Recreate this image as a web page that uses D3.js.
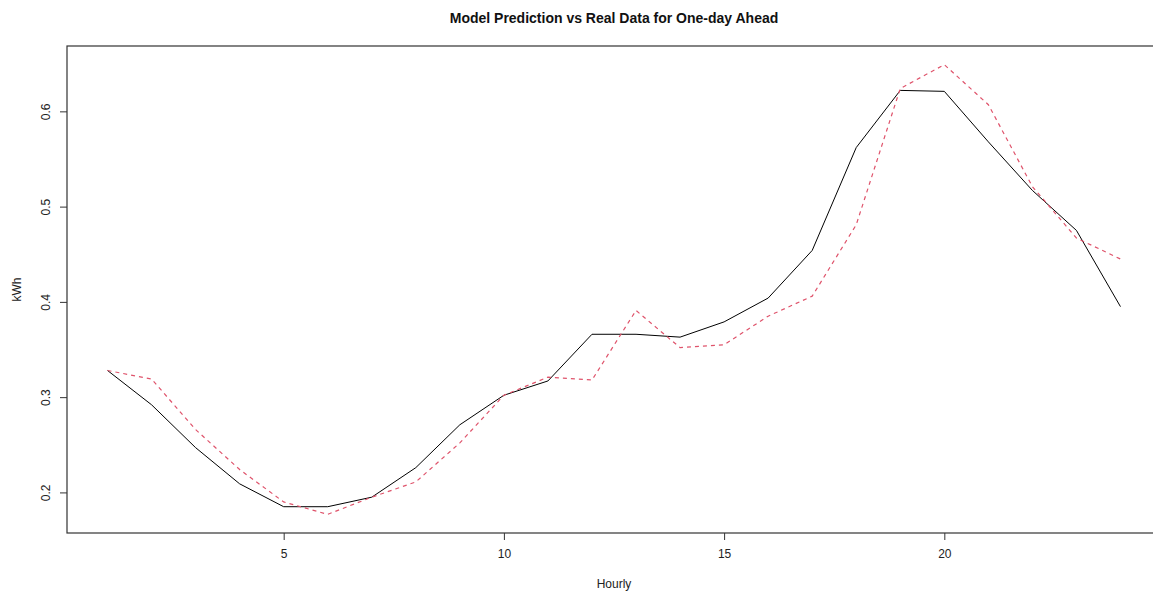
<!DOCTYPE html>
<html>
<head>
<meta charset="utf-8">
<script src="https://cdn.jsdelivr.net/npm/d3@7"></script>
<style>
  body { margin: 0; background: #fff; overflow: hidden; }
  svg { display: block; }
  text { font-family: "Liberation Sans", Arial, sans-serif; }
</style>
</head>
<body>
<div id="chart"></div>
<script>
// hours 1..24
let hours = d3.range(1, 25);
// real data (black solid line)
let realData = [0.328, 0.292, 0.247, 0.209, 0.185, 0.185, 0.195, 0.226, 0.271, 0.302, 0.317, 0.366,
                0.366, 0.363, 0.379, 0.404, 0.454, 0.562, 0.622, 0.621, 0.568, 0.517, 0.475, 0.395];
// model prediction (red dashed line)
let predData = [0.328, 0.319, 0.266, 0.224, 0.190, 0.177, 0.195, 0.211, 0.252, 0.302, 0.321, 0.318,
                0.391, 0.352, 0.355, 0.385, 0.406, 0.481, 0.624, 0.649, 0.607, 0.521, 0.467, 0.445];
let xTicks = [5, 10, 15, 20];
let yTicks = [0.2, 0.3, 0.4, 0.5, 0.6];

let width = 1153;
let height = 591;

// plot box (R style, right edge runs past the picture)
let boxLeft = 67, boxRight = 1161, boxTop = 46, boxBottom = 533;

let svg = d3.select("#chart")
    .append("svg")
    .attr("width", width)
    .attr("height", height);

// R pads 4% on each side
let xs = d3.scaleLinear().domain([0.08, 24.92]).range([boxLeft, boxRight]);
let ys = d3.scaleLinear().domain([0.1574, 0.6686]).range([boxBottom, boxTop]);

// box
svg.append("rect")
    .attr("x", boxLeft).attr("y", boxTop)
    .attr("width", boxRight - boxLeft).attr("height", boxBottom - boxTop)
    .attr("fill", "none")
    .attr("stroke", "#333")
    .attr("stroke-width", 1.2);

// x axis
let xAxis = d3.axisBottom(xs).tickValues(xTicks).tickSize(7).tickPadding(9).tickFormat(d3.format("d"));
let gx = svg.append("g").attr("transform", "translate(0," + boxBottom + ")").call(xAxis);
gx.select(".domain").remove();
gx.selectAll(".tick line").attr("stroke", "#333");
gx.selectAll(".tick text").style("font-size", "12px").attr("fill", "#222");

// y axis, labels rotated like R's las=0
let yAxis = d3.axisLeft(ys).tickValues(yTicks).tickSize(7).tickFormat(d3.format(".1f"));
let gy = svg.append("g").attr("transform", "translate(" + boxLeft + ",0)").call(yAxis);
gy.select(".domain").remove();
gy.selectAll(".tick line").attr("stroke", "#333");
gy.selectAll(".tick text")
    .attr("x", 0).attr("dy", null)
    .attr("transform", "translate(-17,0) rotate(-90)")
    .attr("text-anchor", "middle")
    .style("font-size", "12px")
    .attr("fill", "#222");

let line = d3.line()
    .x((d, i) => xs(hours[i]))
    .y(d => ys(d));

svg.append("path")
    .datum(realData)
    .attr("d", line)
    .attr("fill", "none")
    .attr("stroke", "#000")
    .attr("stroke-width", 1);

svg.append("path")
    .datum(predData)
    .attr("d", line)
    .attr("fill", "none")
    .attr("stroke", "#DF536B")
    .attr("stroke-width", 1.2)
    .attr("stroke-dasharray", "4,4");

// title and axis titles
svg.append("text")
    .attr("x", 614).attr("y", 23)
    .attr("text-anchor", "middle")
    .style("font-size", "14px")
    .style("font-weight", "bold")
    .attr("fill", "#111")
    .text("Model Prediction vs Real Data for One-day Ahead");

svg.append("text")
    .attr("x", 614).attr("y", 588)
    .attr("text-anchor", "middle")
    .style("font-size", "12px")
    .attr("fill", "#222")
    .text("Hourly");

svg.append("text")
    .attr("transform", "translate(21," + ((boxTop + boxBottom) / 2) + ") rotate(-90)")
    .attr("text-anchor", "middle")
    .style("font-size", "12px")
    .attr("fill", "#222")
    .text("kWh");
</script>
</body>
</html>
